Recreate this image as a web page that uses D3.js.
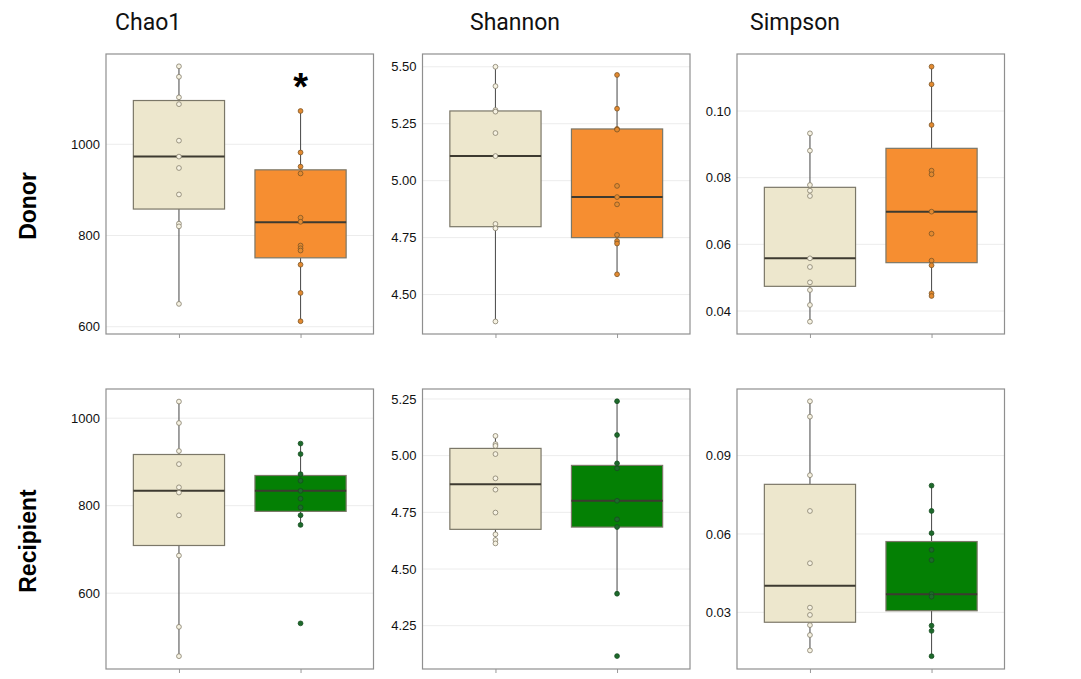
<!DOCTYPE html>
<html>
<head>
<meta charset="utf-8">
<script src="https://cdn.jsdelivr.net/npm/d3@7"></script>
<style>
  body { margin: 0; background: #fff; }
  svg { display: block; }
</style>
</head>
<body>
<div class="chart"></div>
<script>
// chart values
const metrics = ['Chao1', 'Shannon', 'Simpson'];
const cohorts = ['Donor', 'Recipient'];
const arms = ['control', 'treated'];

const donorChao1 = [
  [1171, 1148, 1103, 1088, 1008, 973, 948, 890, 826, 820, 650],
  [1073, 982, 951, 936, 839, 830, 778, 772, 767, 736, 674, 612]
];
const donorChao1Box = [[650, 858, 973, 1096, 1171], [612, 751, 829, 944, 1073]];

const donorShannon = [
  [5.50, 5.415, 5.31, 5.303, 5.209, 5.108, 4.81, 4.791, 4.382],
  [5.464, 5.316, 5.227, 5.224, 4.977, 4.928, 4.896, 4.762, 4.735, 4.724, 4.589]
];
const donorShannonBox = [[4.382, 4.798, 5.108, 5.306, 5.50], [4.589, 4.75, 4.928, 5.227, 5.464]];

const donorSimpson = [
  [0.0933, 0.0881, 0.0778, 0.0761, 0.0745, 0.0558, 0.0532, 0.0486, 0.0463, 0.0418, 0.0368],
  [0.1133, 0.108, 0.0958, 0.0821, 0.081, 0.0698, 0.0632, 0.0551, 0.0537, 0.0453, 0.0445]
];
const donorSimpsonBox = [[0.0368, 0.0474, 0.0558, 0.0771, 0.0933], [0.0445, 0.0545, 0.0698, 0.0888, 0.1133]];

const recipChao1 = [
  [1038, 989, 925, 895, 842, 830, 778, 686, 523, 456],
  [942, 918, 872, 857, 834, 816, 796, 778, 756, 531]
];
const recipChao1Box = [[456, 709, 834, 917, 1038], [756, 787, 834, 869, 942]];

const recipShannon = [
  [5.087, 5.051, 5.043, 5.007, 4.90, 4.85, 4.749, 4.653, 4.628, 4.613],
  [5.24, 5.091, 4.966, 4.944, 4.801, 4.719, 4.685, 4.391, 4.116]
];
const recipShannonBox = [[4.613, 4.675, 4.874, 5.032, 5.087], [4.391, 4.685, 4.801, 4.957, 5.24]];

const recipSimpson = [
  [0.1108, 0.1049, 0.0825, 0.0688, 0.0488, 0.0318, 0.029, 0.0251, 0.0213, 0.0154],
  [0.0785, 0.0688, 0.0603, 0.0539, 0.05, 0.037, 0.036, 0.0249, 0.0229, 0.0132]
];
const recipSimpsonBox = [[0.0154, 0.0262, 0.0402, 0.0790, 0.1108], [0.0132, 0.0306, 0.0369, 0.0571, 0.0785]];

// axis domains and tick labels per panel
const yDomains = [
  [[584, 1198], [4.327, 5.556], [0.0331, 0.1171]],
  [[426.7, 1066.7], [4.059, 5.294], [0.0083, 0.1155]]
];
const yTicks = [
  [[600, 800, 1000], [4.50, 4.75, 5.00, 5.25, 5.50], [0.04, 0.06, 0.08, 0.10]],
  [[600, 800, 1000], [4.25, 4.50, 4.75, 5.00, 5.25], [0.03, 0.06, 0.09]]
];
const tickFormats = [d3.format('d'), d3.format('.2f'), d3.format('.2f')];

const points = [[donorChao1, donorShannon, donorSimpson], [recipChao1, recipShannon, recipSimpson]];
const boxes = [[donorChao1Box, donorShannonBox, donorSimpsonBox], [recipChao1Box, recipShannonBox, recipSimpsonBox]];
const significant = [[false, true], [false, false]]; // only donor chao1 treated arm

// --- layout
const W = 1081, H = 679;
const colLeft = [106, 422.5, 737];
const panelW = 267.5;
const rowTop = [54, 389];
const panelH = 280;
const titleX = [115, 470, 750];

const fills = [['#ede7cd', '#f68e31'], ['#ede7cd', '#048004']];
const dotFill = [['#f6f2e2', '#e38a30'], ['#f6f2e2', '#1d6a2b']];
const dotStroke = [['#857f6c', '#7e5526'], ['#857f6c', '#174d21']];

const svg = d3.select('.chart').append('svg')
    .attr('width', W)
    .attr('height', H)
    .style('font-family', "'Liberation Sans', Arial, sans-serif");

metrics.forEach((m, c) => {
  svg.append('text')
    .attr('x', titleX[c])
    .attr('y', 30)
    .attr('font-family', 'Roboto, sans-serif')
    .attr('font-size', '23px')
    .attr('fill', '#111')
    .text(m);
});

cohorts.forEach((g, r) => {
  svg.append('text')
    .attr('transform', `translate(36,${rowTop[r] + panelH / 2 + 12}) rotate(-90)`)
    .attr('text-anchor', 'middle')
    .attr('font-size', '23px')
    .attr('font-weight', 'bold')
    .attr('fill', '#000')
    .text(g);
});

cohorts.forEach((g, r) => {
  metrics.forEach((m, c) => {
    const x0 = colLeft[c], y0 = rowTop[r];
    const x = d3.scalePoint().domain(arms).range([x0, x0 + panelW]).padding(0.6);
    const y = d3.scaleLinear().domain(yDomains[r][c]).range([y0 + panelH, y0]);
    const bw = x.step() * 0.75;

    const p = svg.append('g');

    // grid
    p.selectAll('.grid')
      .data(yTicks[r][c])
      .enter()
      .append('line')
      .attr('x1', x0).attr('x2', x0 + panelW)
      .attr('y1', d => y(d)).attr('y2', d => y(d))
      .attr('stroke', '#ececec')
      .attr('stroke-width', 1);

    // y tick labels
    const yAxis = d3.axisLeft(y).tickValues(yTicks[r][c]).tickFormat(tickFormats[c]).tickSize(0).tickPadding(6);
    const ya = p.append('g')
      .attr('transform', `translate(${x0},0)`)
      .call(yAxis);
    ya.select('.domain').remove();
    ya.selectAll('text').attr('font-size', '13px').attr('fill', '#111')
      .attr('font-family', "'Liberation Sans', Arial, sans-serif");

    // x ticks (no labels)
    const xAxis = d3.axisBottom(x).tickSize(4).tickFormat('');
    const xa = p.append('g')
      .attr('transform', `translate(0,${y0 + panelH})`)
      .call(xAxis);
    xa.select('.domain').remove();
    xa.selectAll('line').attr('stroke', '#999');

    arms.forEach((a, i) => {
      const [lo, q1, med, q3, hi] = boxes[r][c][i];
      const cx = x(a);
      // whiskers
      p.append('line')
        .attr('x1', cx).attr('x2', cx)
        .attr('y1', y(hi)).attr('y2', y(q3))
        .attr('stroke', '#555').attr('stroke-width', 1.1);
      p.append('line')
        .attr('x1', cx).attr('x2', cx)
        .attr('y1', y(q1)).attr('y2', y(lo))
        .attr('stroke', '#555').attr('stroke-width', 1.1);
      // box
      p.append('rect')
        .attr('x', cx - bw / 2)
        .attr('width', bw)
        .attr('y', y(q3))
        .attr('height', y(q1) - y(q3))
        .attr('fill', fills[r][i])
        .attr('stroke', '#7b7768')
        .attr('stroke-width', 1.2);
      // median
      p.append('line')
        .attr('x1', cx - bw / 2).attr('x2', cx + bw / 2)
        .attr('y1', y(med)).attr('y2', y(med))
        .attr('stroke', '#3d3a30').attr('stroke-width', 2);
      // dots
      p.selectAll('.dot' + i)
        .data(points[r][c][i])
        .enter()
        .append('circle')
        .attr('cx', cx)
        .attr('cy', d => y(d))
        .attr('r', 2.4)
        .attr('fill', dotFill[r][i])
        .attr('stroke', dotStroke[r][i])
        .attr('stroke-width', 0.8);

      if (c === 0 && significant[r][i]) {
        p.append('text')
          .attr('x', cx)
          .attr('y', y(hi) - 11)
          .attr('text-anchor', 'middle')
          .attr('font-size', '38px')
          .attr('font-weight', 'bold')
          .attr('fill', '#000')
          .text('*');
      }
    });

    // panel frame
    p.append('rect')
      .attr('x', x0).attr('y', y0)
      .attr('width', panelW).attr('height', panelH)
      .attr('fill', 'none')
      .attr('stroke', '#8f8f8f')
      .attr('stroke-width', 1.2);
  });
});
</script>
</body>
</html>
